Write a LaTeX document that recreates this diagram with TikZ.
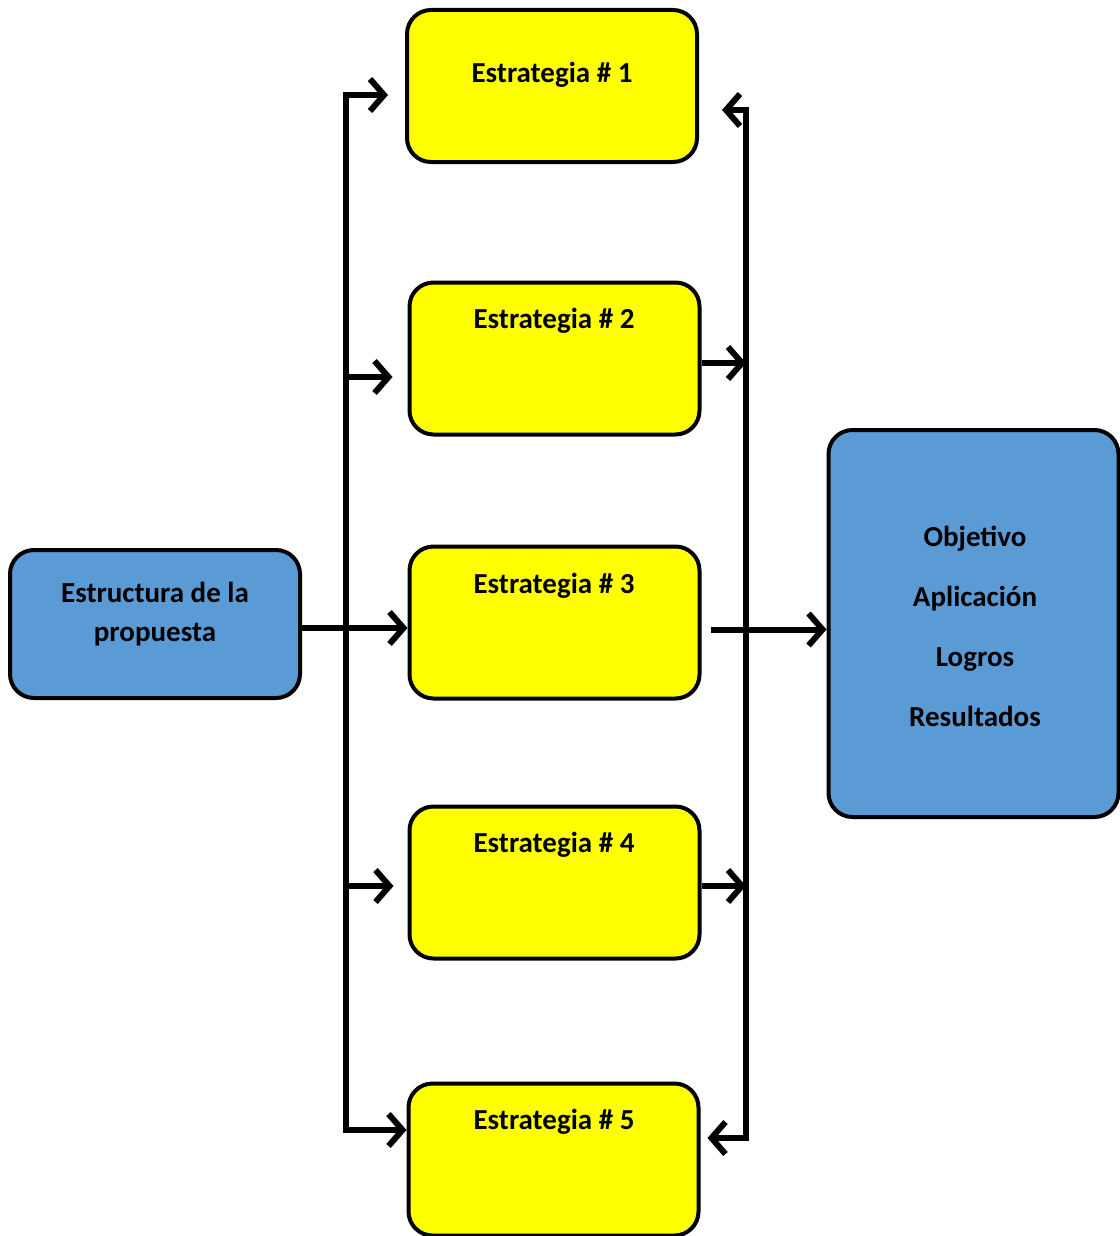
\documentclass[tikz,border=0pt]{standalone}
\usepackage{fontspec}
\setmainfont{Carlito}
\usetikzlibrary{arrows.meta}
\definecolor{boxblue}{RGB}{91,155,213}
\definecolor{boxyellow}{RGB}{255,255,0}

\begin{document}
\begin{tikzpicture}[x=0.5pt,y=-0.5pt,
    box/.style={draw=black, line width=2pt, rounded corners=12pt, minimum width=145pt, inner sep=0pt},
    stratbox/.style={box, fill=boxyellow, minimum height=76pt},
    bluebox/.style={box, fill=boxblue},
    txt/.style={font=\fontsize{14.5}{19.5}\selectfont\bfseries, align=center},
    link/.style={line width=3pt, -{Straight Barb[length=7pt,width=16pt]}}]
    \useasboundingbox (0,0) rectangle (1119,1236);

    % boxes
    \node[bluebox, minimum height=74pt] (src) at (155,624) {};
    \node[stratbox] (e1) at (552,86) {};
    \node[stratbox] (e2) at (554.5,358.5) {};
    \node[stratbox] (e3) at (554.5,622.5) {};
    \node[stratbox] (e4) at (554.5,882.5) {};
    \node[stratbox] (e5) at (553.5,1159.5) {};
    \node[bluebox, minimum height=193.5pt] (goal) at (973.5,623.5) {};

    % texts
    \node[txt] (srct) at (155,614) {Estructura de la\\propuesta};
    \node[txt] (t1) at (552,75) {Estrategia \# 1};
    \node[txt] (t2) at (554,321) {Estrategia \# 2};
    \node[txt] (t3) at (554,586) {Estrategia \# 3};
    \node[txt] (t4) at (554,845) {Estrategia \# 4};
    \node[txt] (t5) at (554,1122) {Estrategia \# 5};
    \node[txt, font=\fontsize{14.5}{30}\selectfont\bfseries] (goalt) at (975,626)
        {Objetivo\\Aplicación\\Logros\\Resultados};

    % left bus
    \coordinate (l1) at (346,95);
    \coordinate (l2) at (346,377);
    \coordinate (l4) at (346,886);
    \coordinate (l5) at (346,1130);
    \draw[link, shorten >=8.5pt] (l5) -- (l1) -- (l1 -| e1.west);
    \draw[link] (l1) -- (l5) -- (l5 -| e5.west);
    \draw[link, shorten >=7.5pt] (l2) -- (l2 -| e2.west);
    \draw[link, shorten >=7pt] (l4) -- (l4 -| e4.west);
    \draw[link] ([yshift=-2pt]src.east) -- ([yshift=-2pt]src.east -| e3.west);

    % right bus
    \coordinate (r1) at (746,110);
    \coordinate (r2) at (746,363);
    \coordinate (r4) at (746,886);
    \coordinate (r5) at (746,1138);
    \draw[link, shorten >=11.5pt] (r5) -- (r1) -- (r1 -| e1.east);
    \draw[link, shorten >=3.5pt] (r1) -- (r5) -- (r5 -| e5.east);
    \draw[link] (r2 -| e2.east) -- (r2);
    \draw[link] (r4 -| e4.east) -- (r4);
    \draw[link, shorten <=4.5pt] ([yshift=-3.5pt]e3.east) -- ([yshift=-3.5pt]e3.east -| goal.west);
\end{tikzpicture}
\end{document}
